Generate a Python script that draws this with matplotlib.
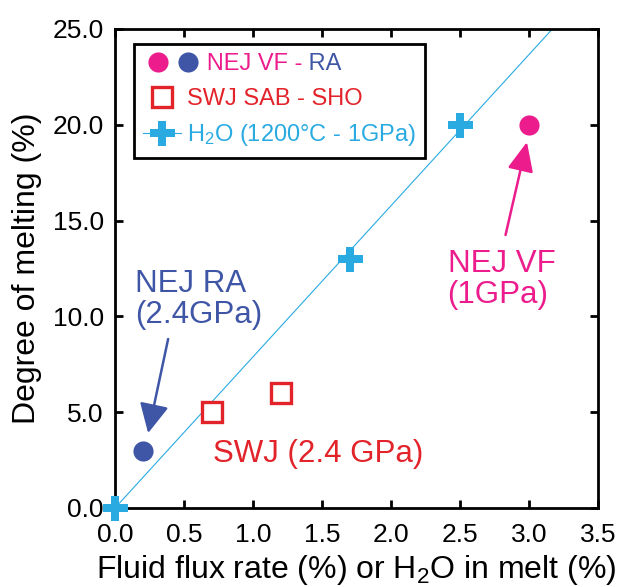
import numpy as np
import matplotlib
matplotlib.use('Agg')
import matplotlib.pyplot as plt
from matplotlib.lines import Line2D

plt.rcParams['font.family'] = ['Liberation Sans', 'DejaVu Sans']
plt.rcParams['mathtext.fontset'] = 'custom'
plt.rcParams['mathtext.rm'] = 'Liberation Sans'
plt.rcParams['mathtext.default'] = 'regular'

# data
nejVF_x = [3.0]
nejVF_y = [20.0]
nejRA_x = [0.2]
nejRA_y = [3.0]
swj_x = [0.7, 1.2]
swj_y = [5.0, 6.0]
h2o_x = [0.0, 1.7, 2.5]
h2o_y = [0.0, 13.0, 20.0]

xticks = [0.0, 0.5, 1.0, 1.5, 2.0, 2.5, 3.0, 3.5]
yticks = [0.0, 5.0, 10.0, 15.0, 20.0, 25.0]

PINK = '#EC1C8C'
BLUE = '#3F56A6'
RED = '#E2232A'
CYAN = '#29ABE2'


class TwoDots(object):
    '''two coloured circles side by side, second one pushed right'''
    def __init__(self, colors):
        self.colors = colors


class TwoDotsHandler(object):
    def legend_artist(self, legend, orig_handle, fontsize, handlebox):
        w = handlebox.width
        h = handlebox.height
        yd = handlebox.ydescent
        arts = []
        for k, c in enumerate(orig_handle.colors):
            ln = Line2D([w * (0.4 + 0.78 * k)], [(h - yd) / 2.0], ls='none',
                        marker='o', ms=14.5, color=c, mew=0)
            handlebox.add_artist(ln)
            arts.append(ln)
        return arts[0]


fig = plt.figure(figsize=(6.17, 5.87), dpi=100)
ax = fig.add_axes([0.1864, 0.1346, 0.7828, 0.8160])

# linear fit through origin for the H2O points
hx = np.array(h2o_x)
hy = np.array(h2o_y)
slope = np.sum(hx * hy) / np.sum(hx * hx)
fitX = np.array([0.0, xticks[-1]])
ax.plot(fitX, slope * fitX, color=CYAN, lw=0.8, zorder=2)

ax.plot(h2o_x, h2o_y, ls='none', marker='P', ms=18, color=CYAN, mew=0,
        clip_on=False, zorder=5)
ax.plot(nejVF_x, nejVF_y, ls='none', marker='o', ms=14.5, color=PINK, mew=0, zorder=4)
ax.plot(nejRA_x, nejRA_y, ls='none', marker='o', ms=14.5, color=BLUE, mew=0, zorder=4)
ax.plot(swj_x, swj_y, ls='none', marker='s', ms=14, mfc='white', mec=RED,
        mew=2.4, zorder=4)

ax.set_xlim(xticks[0], xticks[-1])
ax.set_ylim(yticks[0], yticks[-1])
ax.set_xticks(xticks)
ax.set_yticks(yticks)
ax.set_xticklabels(['%.1f' % v for v in xticks])
ax.set_yticklabels(['%.1f' % v for v in yticks])
ax.tick_params(direction='in', top=True, right=True, length=6, width=2,
               labelsize=19)
ax.tick_params(axis='x', pad=11)
ax.tick_params(axis='y', pad=8)
for sp in ax.spines.values():
    sp.set_linewidth(2)

ax.set_xlabel('Fluid flux rate (%) or H$_2$O in melt (%)', fontsize=23, labelpad=4)
ax.set_ylabel('Degree of melting (%)', fontsize=23, labelpad=8)

# annotations
ax.text(2.41, 10.70, 'NEJ VF\n(1GPa)', color=PINK, fontsize=22.5,
        ha='left', va='baseline', linespacing=1.03)
ax.annotate('', xy=(2.985, 19.1), xytext=(2.83, 14.25),
            arrowprops=dict(arrowstyle='-|>,head_length=0.9,head_width=0.4',
                            color=PINK, lw=1.8, mutation_scale=20,
                            shrinkA=0, shrinkB=0))
ax.text(0.145, 9.66, 'NEJ RA\n(2.4GPa)', color=BLUE, fontsize=22.5,
        ha='left', va='baseline', linespacing=1.03)
ax.annotate('', xy=(0.24, 3.91), xytext=(0.385, 8.82),
            arrowprops=dict(arrowstyle='-|>,head_length=0.9,head_width=0.45',
                            color=BLUE, lw=1.8, mutation_scale=20,
                            shrinkA=0, shrinkB=0))
ax.text(0.71, 2.4, 'SWJ (2.4 GPa)', color=RED, fontsize=22.5,
        ha='left', va='baseline')

# legend
hSWJ = Line2D([], [], ls='none', marker='s', ms=14, mfc='white', mec=RED, mew=2.4)
hH2O = Line2D([], [], color=CYAN, lw=0.8, marker='P', ms=18, mew=0)
leg = ax.legend([TwoDots([PINK, BLUE]), hSWJ, hH2O],
                ['   NEJ VF -', 'SWJ SAB - SHO', 'H$_2$O (1200\u00b0C - 1GPa)'],
                handler_map={TwoDots: TwoDotsHandler()},
                loc='upper left', bbox_to_anchor=(0.039, 0.969),
                borderaxespad=0, fontsize=17, frameon=True, fancybox=False,
                edgecolor='black', framealpha=1, handlelength=1.6,
                handletextpad=0.25, labelspacing=0.53, borderpad=0.4)
leg.get_frame().set_linewidth(2)
legTexts = leg.get_texts()
legTexts[0].set_color(PINK)
legTexts[1].set_color(RED)
legTexts[2].set_color(CYAN)
ax.annotate(' RA', xy=(1, 0), xycoords=legTexts[0], ha='left', va='bottom',
            fontsize=17, color=BLUE, annotation_clip=False, zorder=10)

plt.savefig('out.png', dpi=100)
plt.close()
